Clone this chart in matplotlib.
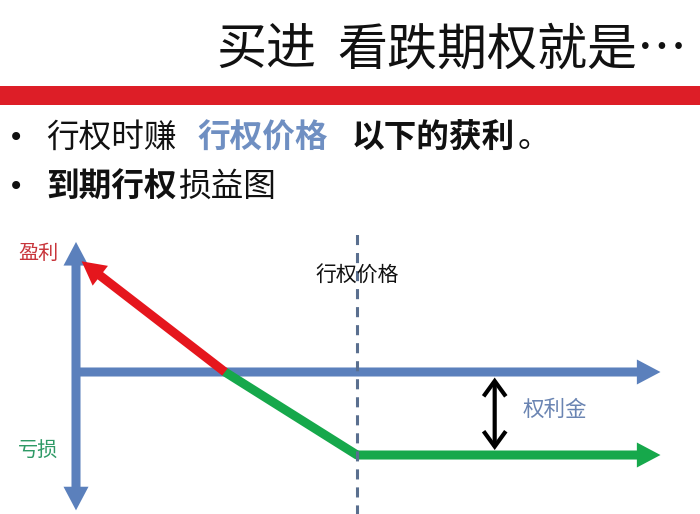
import matplotlib
matplotlib.use("Agg")
import matplotlib.pyplot as plt
from matplotlib.patches import FancyArrowPatch, Rectangle, ArrowStyle
from matplotlib.lines import Line2D

plt.rcParams['font.family'] = ['Noto Sans CJK SC', 'DejaVu Sans']

# ---------------- data (schematic payoff of buying a put at expiry) -------------
title_parts = ["买进", "看跌期权就是…"]
bullet1_parts = ["行权时赚", "行权价格", "以下的获利", "。"]
bullet2_parts = ["到期行权", "损益图"]
strike_label = "行权价格"
premium_label = "权利金"
profit_label = "盈利"
loss_label = "亏损"

strike_price = 100
breakeven_price = 53
premium = 30
price_axis = [0, 208]          # start / end of the price (horizontal) axis
pl_axis = [-50, 47]            # bottom / top of the P&L (vertical) axis
profit_x = [53, 2]             # red profit arrow (from breakeven to tip)
profit_y = [0, 40]
loss_x = [53, 100]             # sloped loss segment
loss_y = [0, -30]
flat_x = [100, 208]            # flat loss arrow beyond the strike
flat_y = [-30, -30]
strike_line_y = [-53, 50]
premium_marker_x = 149

# ---------------- figure ------------------------------------------------------
W, H = 700, 514
fig = plt.figure(figsize=(7, 5.14), dpi=100)
fig.patch.set_facecolor("white")

def fx(px):
    return px / W

def fy(py):
    return 1 - py / H

# header
fig.text(fx(216), fy(51), title_parts[0], fontsize=36, color="#111111", va="center", ha="left")
fig.text(fx(337), fy(51), title_parts[1], fontsize=36, color="#111111", va="center", ha="left")
fig.patches.append(Rectangle((0, fy(105)), 1, (105 - 86) / H, transform=fig.transFigure,
                             facecolor="#DD1E27", edgecolor="none"))

# bullets
for yb in (138, 187):
    fig.text(fx(16), fy(yb), "•", fontsize=20, color="#111111", va="center", ha="center",
             family=["DejaVu Sans"])
fs = 23.5
fig.text(fx(46), fy(138), bullet1_parts[0], fontsize=fs, color="#111111", va="center", ha="left")
fig.text(fx(198), fy(138), bullet1_parts[1], fontsize=fs, color="#6F8FC2", fontweight="bold",
         va="center", ha="left")
fig.text(fx(352), fy(138), bullet1_parts[2], fontsize=fs, color="#111111", fontweight="bold",
         va="center", ha="left")
fig.text(fx(518), fy(138), bullet1_parts[3], fontsize=fs, color="#111111", va="center", ha="left")
fig.text(fx(46), fy(187), bullet2_parts[0], fontsize=fs, color="#111111", fontweight="bold",
         va="center", ha="left")
fig.text(fx(178), fy(187), bullet2_parts[1], fontsize=fs, color="#111111", va="center", ha="left")

# chart axes (whole figure, data units mapped onto pixels)
ax = fig.add_axes([0, 0, 1, 1])
xs, x0px = 2.81, 76      # px per price unit, pixel of price 0
ys, y0px = 2.767, 372    # px per P&L unit, pixel of P&L 0
ax.set_xlim(-x0px / xs, (W - x0px) / xs)
ax.set_ylim(-(H - y0px) / ys, y0px / ys)
ax.axis("off")

BLUE = "#5B80BC"
RED = "#E5161D"
GREEN = "#16A84B"

big = ArrowStyle.Simple(head_length=17, head_width=18, tail_width=6.5)

def arrow(p0, p1, color, z):
    a = FancyArrowPatch(p0, p1, arrowstyle=big, mutation_scale=1, color=color, lw=0,
                        shrinkA=0, shrinkB=0, zorder=z)
    ax.add_patch(a)

# vertical P&L axis (double headed)
arrow((0, 0), (0, pl_axis[1]), BLUE, 2)
arrow((0, 0), (0, pl_axis[0]), BLUE, 2)
# horizontal price axis
arrow((price_axis[0], 0), (price_axis[1], 0), BLUE, 2)

# loss segment and flat loss arrow
ax.add_line(Line2D(loss_x, loss_y, color=GREEN, lw=6.5, solid_capstyle="round", zorder=3))
arrow((flat_x[0], flat_y[0]), (flat_x[1], flat_y[1]), GREEN, 3)

# profit arrow
arrow((profit_x[0], profit_y[0]), (profit_x[1], profit_y[1]), RED, 4)

# strike dashed line
ax.add_line(Line2D([strike_price, strike_price], strike_line_y, color="#5A6F8F", lw=2.2,
                   ls=(0, (3.3, 2.6)), zorder=5))

# premium double arrow
pa = FancyArrowPatch((premium_marker_x, -2.0), (premium_marker_x, -premium + 1.8),
                     arrowstyle="<->,head_length=0.55,head_width=0.4", mutation_scale=20,
                     color="black", lw=3, shrinkA=0, shrinkB=0, zorder=6,
                     joinstyle="miter", capstyle="butt")
ax.add_patch(pa)

# labels
ax.text(strike_price, 35, strike_label, fontsize=15, color="#111111", ha="center", va="center", zorder=7)
ax.text(159, -13.7, premium_label, fontsize=15.5, color="#6A84B2", ha="left", va="center")
ax.text(-13.5, 43, profit_label, fontsize=14.5, color="#C8343A", ha="center", va="center")
ax.text(-13.5, -28.5, loss_label, fontsize=14.5, color="#2E9A66", ha="center", va="center")

fig.savefig("out.png", dpi=100)
